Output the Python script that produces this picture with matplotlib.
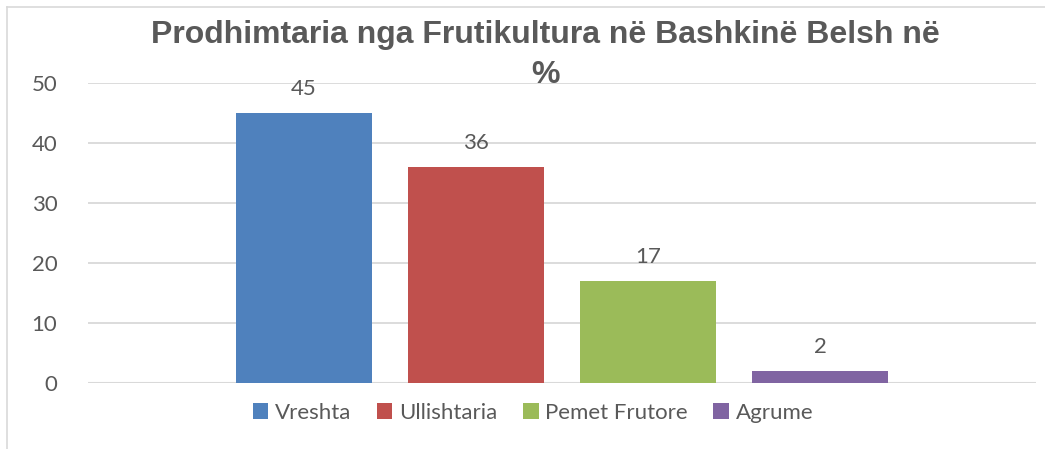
import matplotlib.pyplot as plt
from matplotlib.lines import Line2D

# te dhenat e grafikut
categories = ['Vreshta', 'Ullishtaria', 'Pemet Frutore', 'Agrume']
values = [45, 36, 17, 2]
colors = ['#4F81BD', '#C0504D', '#9BBB59', '#8064A2']
yticks = [0, 10, 20, 30, 40, 50]
title_lines = ['Prodhimtaria nga Frutikultura në Bashkinë Belsh në', '%']

plt.rcParams['font.family'] = ['Lato', 'DejaVu Sans']
text_gray = '#595959'
grid_gray = '#D9D9D9'

fig = plt.figure(figsize=(10.45, 4.49), dpi=100)
ax = fig.add_axes([88 / 1045, 1 - 383 / 449, (1036 - 88) / 1045, 300 / 449])

width = 0.1435
step = 0.1814
n = len(categories)
for i, (cat, val, col) in enumerate(zip(categories, values, colors)):
    x = (i - (n - 1) / 2) * step
    ax.bar(x, val, width=width, color=col, label=cat, zorder=3)
    ax.text(x, val + 2.4, str(val), ha='center', va='bottom',
            fontsize=16, color=text_gray)

ax.set_xlim(-0.5, 0.5)
ax.set_ylim(0, 50)
ax.set_yticks(yticks)
ax.set_xticks([])
ax.tick_params(axis='y', length=0, pad=22, labelsize=16, labelcolor=text_gray)
ax.yaxis.grid(True, color=grid_gray, linewidth=1.3, zorder=0)
for s in ax.spines.values():
    s.set_visible(False)
ax.axhline(0, color=grid_gray, linewidth=1.5, zorder=2)

# titulli ne dy rreshta
for line, ypix in zip(title_lines, [35, 75]):
    fig.text(545 / 1045, 1 - ypix / 449, line,
             ha='center', va='center', fontsize=23, fontweight='bold',
             color=text_gray, family=['Liberation Sans', 'DejaVu Sans'])

ax.legend(loc='center', bbox_to_anchor=(533 / 1045, 1 - 413 / 449),
          bbox_transform=fig.transFigure, ncol=4, frameon=False,
          fontsize=16, handlelength=0.7, handleheight=0.7,
          handletextpad=0.3, columnspacing=1.15, labelcolor=text_gray)

# korniza e grafikut
fig.add_artist(Line2D([7 / 1045, 7 / 1045], [0, 1 - 7 / 449],
                      color=grid_gray, linewidth=1.2, transform=fig.transFigure))
fig.add_artist(Line2D([7 / 1045, 1], [1 - 7 / 449, 1 - 7 / 449],
                      color=grid_gray, linewidth=1.2, transform=fig.transFigure))

fig.savefig('out.png', dpi=100)
